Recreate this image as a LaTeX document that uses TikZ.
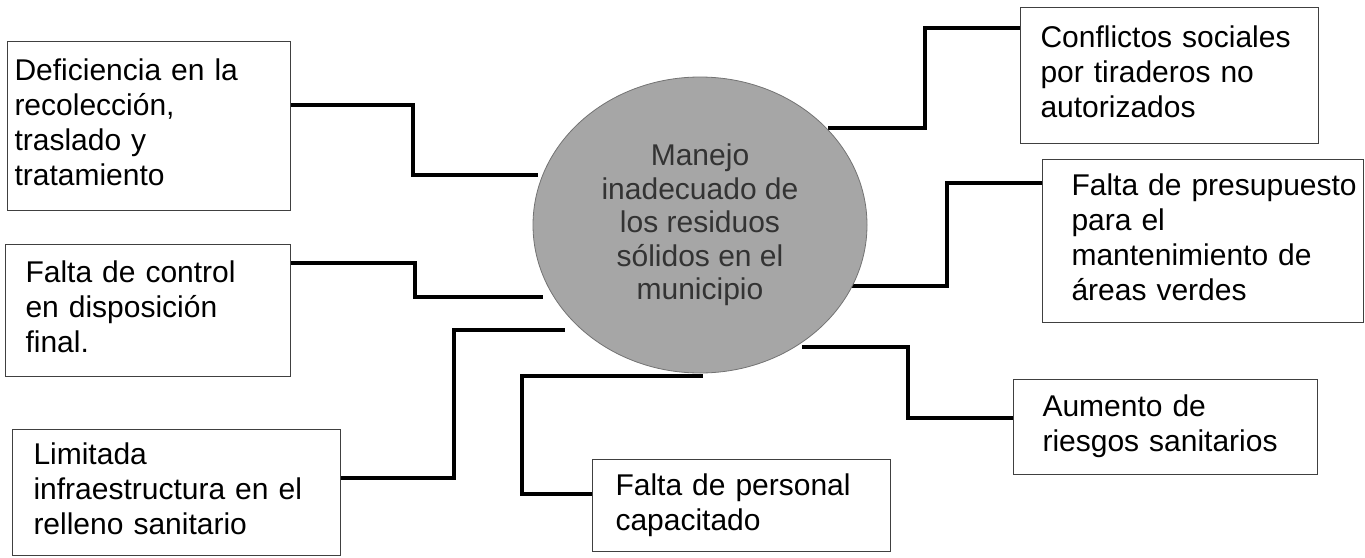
\documentclass[tikz,border=0pt]{standalone}
\usepackage{fontspec}
\setmainfont{Liberation Sans}
\usetikzlibrary{shapes.geometric,backgrounds}
\newcommand\boxlines[1]{\begin{tabular}{@{}l@{}}#1\end{tabular}}
\newcommand\boxfont{\fontsize{30}{35}\selectfont}
\newcommand\ellfont{\fontsize{30}{33.5}\selectfont}
\begin{document}
\begin{tikzpicture}[x=1pt,y=-1pt,
  box/.style={draw=black!75, line width=1pt, anchor=north west, inner ysep=0pt, font=\boxfont, align=left},
  conn/.style={line width=3.2pt, draw=black},
  hub/.style={ellipse, fill=black!35, draw=black!55, line width=0.8pt, inner sep=0pt, font=\ellfont, text=black!80, align=center}
]
\useasboundingbox (0,0) rectangle (1365,557);

% boxes
\node[box, minimum width=283pt, minimum height=169pt, inner xsep=7pt, text width=269pt] (def) at (7,41)
  {\boxlines{Deficiencia en la\\recolección,\\traslado y\\tratamiento}};
\node[box, minimum width=285pt, minimum height=132pt, inner xsep=20pt, text width=245pt] (ctl) at (5,244)
  {\boxlines{Falta de control\\en disposición\\final.}};
\node[box, minimum width=328pt, minimum height=126pt, inner xsep=21pt, text width=286pt] (lim) at (12,429)
  {\boxlines{Limitada\\infraestructura en el\\relleno sanitario}};
\node[box, minimum width=298pt, minimum height=136pt, inner xsep=20pt, text width=258pt] (con) at (1020,7)
  {\boxlines{Conflictos sociales\\por tiraderos no\\autorizados}};
\node[box, minimum width=321pt, minimum height=163pt, inner xsep=29pt, text width=263pt] (pre) at (1042,159)
  {\boxlines{Falta de presupuesto\\para el\\mantenimiento de\\áreas verdes}};
\node[box, minimum width=304pt, minimum height=95pt, inner xsep=29pt, text width=246pt] (aum) at (1013,379)
  {\boxlines{Aumento de\\riesgos sanitarios}};
\node[box, minimum width=298pt, minimum height=92pt, inner xsep=23pt, text width=252pt] (per) at (592,459)
  {\boxlines{Falta de personal\\capacitado}};

% central ellipse
\node[hub, minimum width=334pt, minimum height=296pt] (ell) at (700,225)
  {Manejo\\inadecuado de\\los residuos\\sólidos en el\\municipio};

% connector end points at the ellipse
\coordinate (e1) at (538,175);
\coordinate (e2) at (543,297);
\coordinate (e3) at (565,330);
\coordinate (e4) at (703,376);
\coordinate (e5) at (828,128);
\coordinate (e6) at (850,286);
\coordinate (e7) at (802,347);

\begin{scope}[on background layer]
\draw[conn] ([yshift=-64pt]def.north east) -- ++(122,0) |- (e1);
\draw[conn] ([yshift=-19pt]ctl.north east) -- ++(124,0) |- (e2);
\draw[conn] ([yshift=-49pt]lim.north east) -- ++(113,0) |- (e3);
\draw[conn] ([yshift=-35pt]per.north west) -- ++(-70,0) |- (e4);
\draw[conn] ([yshift=-21pt]con.north west) -- ++(-95,0) |- (e5);
\draw[conn] ([yshift=-24pt]pre.north west) -- ++(-95,0) |- (e6);
\draw[conn] ([yshift=-39pt]aum.north west) -- ++(-105,0) |- (e7);
\end{scope}
\end{tikzpicture}
\end{document}
